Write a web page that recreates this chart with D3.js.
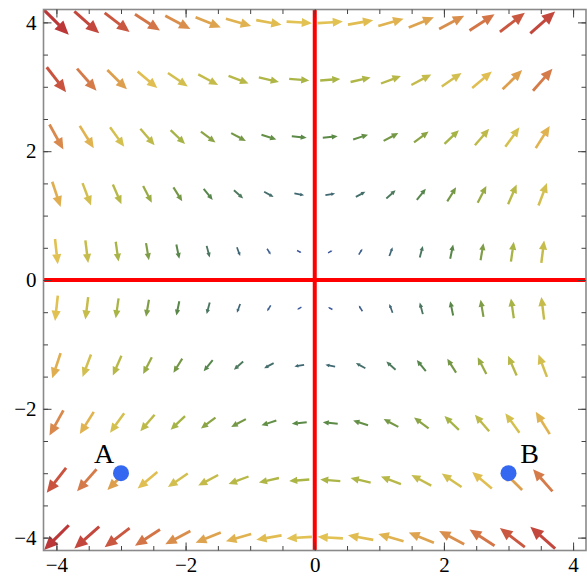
<!DOCTYPE html>
<html>
<head>
<meta charset="utf-8">
<script src="https://cdn.jsdelivr.net/npm/d3@7"></script>
<style>
  body { margin: 0; background: #fff; }
  svg { display: block; }
</style>
</head>
<body>
<div id="chart"></div>
<script>
// grid of sample points (columns, rows)
const columnX = [-4.00, -3.53, -3.06, -2.59, -2.12, -1.65, -1.18, -0.71, -0.24,
                 0.24, 0.71, 1.18, 1.65, 2.12, 2.59, 3.06, 3.53];
const rowY = [4.00, 3.11, 2.22, 1.33, 0.44, -0.44, -1.33, -2.22, -3.11, -4.00];
// horizontal component of each row, vertical component of each column
const rowU = [4.00, 3.11, 2.22, 1.33, 0.44, -0.44, -1.33, -2.22, -3.11, -4.00];
const columnV = [-4.00, -3.53, -3.06, -2.59, -2.12, -1.65, -1.18, -0.71, -0.24,
                 0.24, 0.71, 1.18, 1.65, 2.12, 2.59, 3.06, 3.53];

const pointNames = ['A', 'B'];
const pointX = [-3, 3];
const pointY = [-3, -3];

const majorTicks = [-4, -2, 0, 2, 4];
const minorTicks = [-4, -3.5, -3, -2.5, -2, -1.5, -1, -0.5, 0, 0.5, 1, 1.5, 2, 2.5, 3, 3.5, 4];

const width = 587;
const height = 577;
const frame = {left: 43.5, right: 586, top: 9.5, bottom: 550.5};

const svg = d3.select('#chart')
  .append('svg')
  .attr('width', width)
  .attr('height', height);

const x = d3.scaleLinear().domain([-4.2, 4.2]).range([frame.left, frame.right]);
const y = d3.scaleLinear().domain([-4.2, 4.2]).range([frame.bottom, frame.top]);

const arrows = [];
rowY.forEach((ry, j) => {
  columnX.forEach((cx, i) => {
    const u = rowU[j], v = columnV[i];
    arrows.push({x: cx, y: ry, u, v, m: Math.hypot(u, v)});
  });
});

const len = d3.scaleLinear().domain([0, 5.66]).range([2, 35]);
const color = d3.scaleLinear()
  .domain([0.5, 1.35, 2.23, 3.12, 4.0, 4.22, 4.57, 5.07, 5.66])
  .range(['#3a569e', '#3f6872', '#5b8a46', '#abb545', '#e1c352',
          '#e0ae4f', '#d98a4c', '#c9533f', '#bc3838'])
  .interpolate(d3.interpolateRgb);

svg.append('clipPath').attr('id', 'clip')
  .append('rect')
  .attr('x', frame.left).attr('y', frame.top)
  .attr('width', frame.right - frame.left)
  .attr('height', frame.bottom - frame.top);

const field = svg.append('g').attr('clip-path', 'url(#clip)');

field.selectAll('g.arrow')
  .data(arrows)
  .join('g')
  .attr('class', 'arrow')
  .each(function(d) {
    const L = len(d.m);
    const dx = d.u / d.m, dy = -d.v / d.m;
    const cx = x(d.x), cy = y(d.y);
    const tx = cx - dx * L / 2, ty = cy - dy * L / 2;
    const hx = cx + dx * L / 2, hy = cy + dy * L / 2;
    const hl = 0.4 * L, hw = 0.18 * L;
    const bx = hx - dx * hl, by = hy - dy * hl;
    const g = d3.select(this);
    const c = color(d.m);
    g.append('line')
      .attr('x1', tx).attr('y1', ty)
      .attr('x2', bx + dx * 0.5).attr('y2', by + dy * 0.5)
      .attr('stroke', c)
      .attr('stroke-width', 1.2 + 0.055 * L);
    g.append('path')
      .attr('d', `M${hx},${hy}L${bx - dy * hw},${by + dx * hw}L${bx + dy * hw},${by - dx * hw}Z`)
      .attr('fill', c);
  });

// red axes
svg.append('line')
  .attr('x1', x(0)).attr('x2', x(0))
  .attr('y1', frame.top).attr('y2', frame.bottom)
  .attr('stroke', '#ff0000').attr('stroke-width', 4);
svg.append('line')
  .attr('x1', frame.left).attr('x2', frame.right)
  .attr('y1', y(0)).attr('y2', y(0))
  .attr('stroke', '#ff0000').attr('stroke-width', 4);

// frame
svg.append('rect')
  .attr('x', frame.left).attr('y', frame.top)
  .attr('width', frame.right - frame.left)
  .attr('height', frame.bottom - frame.top)
  .attr('fill', 'none')
  .attr('stroke', '#8a8a8a')
  .attr('stroke-width', 1.6);

const fmt = d => d < 0 ? '\u2212' + Math.abs(d) : String(d);

function styleAxis(g) {
  g.select('.domain').remove();
  g.selectAll('.tick line').attr('stroke', '#444').attr('stroke-width', 1);
  g.selectAll('.tick text')
    .attr('font-family', '"Liberation Serif", "Times New Roman", serif')
    .attr('font-size', 21)
    .attr('fill', '#000');
}

// bottom
svg.append('g').attr('transform', `translate(0,${frame.bottom})`)
  .call(d3.axisBottom(x).tickValues(minorTicks).tickSize(-4.5).tickFormat(''))
  .call(styleAxis);
svg.append('g').attr('transform', `translate(0,${frame.bottom})`)
  .call(d3.axisBottom(x).tickValues(majorTicks).tickSize(-8).tickPadding(7).tickFormat(fmt))
  .call(styleAxis);
// left
svg.append('g').attr('transform', `translate(${frame.left},0)`)
  .call(d3.axisLeft(y).tickValues(minorTicks).tickSize(-4.5).tickFormat(''))
  .call(styleAxis);
svg.append('g').attr('transform', `translate(${frame.left},0)`)
  .call(d3.axisLeft(y).tickValues(majorTicks).tickSize(-8).tickPadding(7).tickFormat(fmt))
  .call(styleAxis);
// top
svg.append('g').attr('transform', `translate(0,${frame.top})`)
  .call(d3.axisTop(x).tickValues(minorTicks).tickSize(-4.5).tickFormat(''))
  .call(styleAxis);
svg.append('g').attr('transform', `translate(0,${frame.top})`)
  .call(d3.axisTop(x).tickValues(majorTicks).tickSize(-8).tickFormat(''))
  .call(styleAxis);
// right
svg.append('g').attr('transform', `translate(${frame.right},0)`)
  .call(d3.axisRight(y).tickValues(minorTicks).tickSize(-4.5).tickFormat(''))
  .call(styleAxis);
svg.append('g').attr('transform', `translate(${frame.right},0)`)
  .call(d3.axisRight(y).tickValues(majorTicks).tickSize(-8).tickFormat(''))
  .call(styleAxis);

// labelled points
const pts = pointNames.map((name, i) => ({name, x: pointX[i], y: pointY[i]}));
svg.append('g')
  .selectAll('circle')
  .data(pts)
  .join('circle')
  .attr('cx', d => x(d.x))
  .attr('cy', d => y(d.y))
  .attr('r', 8)
  .attr('fill', '#3568f0');

svg.append('g')
  .selectAll('text')
  .data(pts)
  .join('text')
  .attr('x', d => x(d.x) + (d.x < 0 ? -17 : 21))
  .attr('y', d => y(d.y) - 10)
  .attr('text-anchor', 'middle')
  .attr('font-family', '"Liberation Serif", "Times New Roman", serif')
  .attr('font-size', 28)
  .text(d => d.name);
</script>
</body>
</html>
